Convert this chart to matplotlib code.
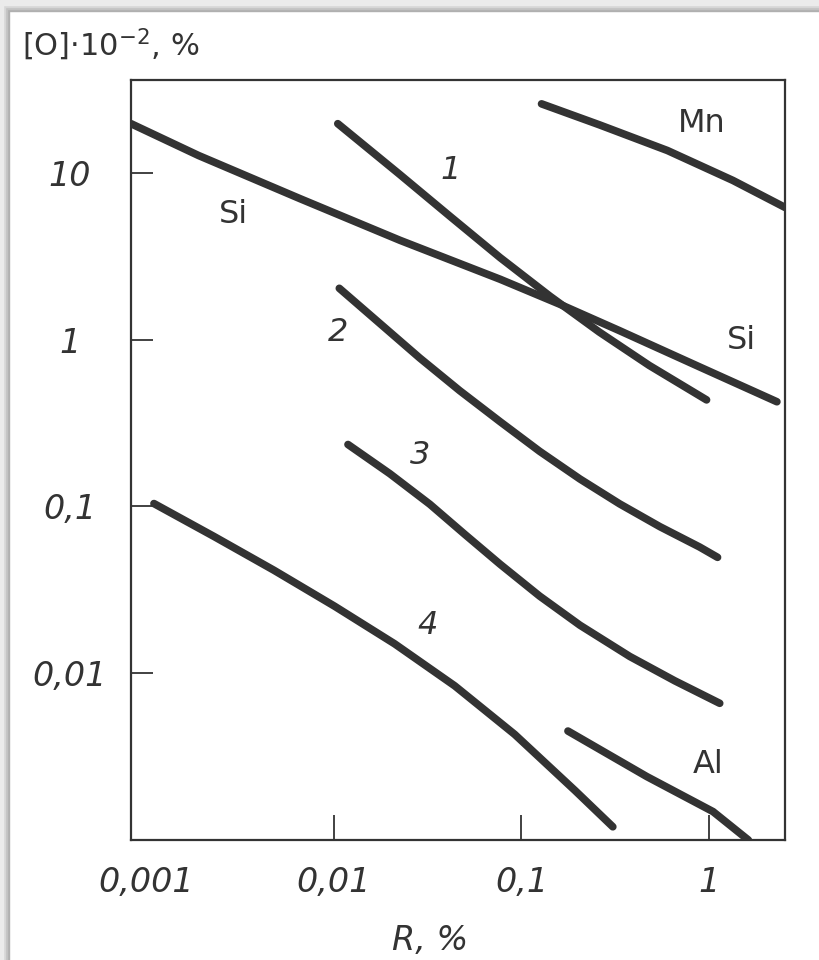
import matplotlib.pyplot as plt
from matplotlib.patches import Rectangle

# curves (log-log), R in %, [O]*1e-2 in %
si_x = [0.00083, 0.0019, 0.0066, 0.0225, 0.077, 0.16, 0.334, 0.89, 2.3]
si_y = [19.7, 12.7, 7.0, 3.94, 2.30, 1.63, 1.13, 0.686, 0.424]

mn_x = [0.128, 0.26, 0.60, 1.34, 2.54]
mn_y = [25.9, 19.4, 13.6, 9.0, 6.2]

c1_x = [0.0105, 0.0224, 0.0415, 0.077, 0.142, 0.26, 0.48, 0.97]
c1_y = [19.7, 9.8, 5.5, 3.1, 1.82, 1.11, 0.70, 0.435]

c2_x = [0.0107, 0.0176, 0.0287, 0.0469, 0.077, 0.125, 0.205, 0.334, 0.547, 0.89, 1.11]
c2_y = [2.03, 1.25, 0.776, 0.494, 0.322, 0.214, 0.146, 0.1035, 0.0756, 0.0571, 0.0495]

c3_x = [0.0119, 0.0199, 0.0325, 0.0499, 0.077, 0.125, 0.205, 0.378, 0.657, 1.14]
c3_y = [0.235, 0.157, 0.103, 0.068, 0.045, 0.029, 0.0194, 0.0126, 0.0090, 0.0066]

c4_x = [0.0011, 0.0023, 0.0048, 0.0101, 0.0211, 0.0441, 0.092, 0.193, 0.307]
c4_y = [0.104, 0.066, 0.0414, 0.0252, 0.0150, 0.0084, 0.0043, 0.00198, 0.0012]

al_x = [0.177, 0.466, 1.05, 1.62]
al_y = [0.0045, 0.0024, 0.00148, 0.001]

curves = [(si_x, si_y), (mn_x, mn_y), (c1_x, c1_y), (c2_x, c2_y),
          (c3_x, c3_y), (c4_x, c4_y), (al_x, al_y)]

lab_text = ["Mn", "Si", "Si", "Al", "1", "2", "3", "4"]
lab_x = [0.915, 0.0029, 1.48, 0.986, 0.042, 0.0105, 0.0287, 0.0317]
lab_y = [19.7, 5.63, 0.99, 0.00283, 10.3, 1.11, 0.2015, 0.0194]

xticks = [0.001, 0.01, 0.1, 1]
xtick_labels = ["0,001", "0,01", "0,1", "1"]
yticks = [0.01, 0.1, 1, 10]
ytick_labels = ["0,01", "0,1", "1", "10"]

ink = "#333333"
plt.rcParams["font.family"] = ["DejaVu Sans"]
plt.rcParams["mathtext.fontset"] = "custom"
plt.rcParams["mathtext.rm"] = "DejaVu Sans"
plt.rcParams["mathtext.it"] = "DejaVu Sans:italic"

fig = plt.figure(figsize=(8.19, 9.6), dpi=100)
fig.patch.set_facecolor("white")

# scan shadow on top / left edges
for i, g in enumerate(["#b0b0b0", "#c2c2c2", "#d6d6d6", "#ebebeb"]):
    fig.patches.append(Rectangle((0, 1 - (11 - 2 * i) / 960), 1, (11 - 2 * i) / 960,
                                 transform=fig.transFigure, color=g, zorder=-5 + i))
    fig.patches.append(Rectangle((0, 0), (9 - 2 * i) / 819, 1,
                                 transform=fig.transFigure, color=g, zorder=-5 + i))

ax = fig.add_axes([131 / 819, 120 / 960, 654 / 819, 760 / 960])
ax.set_xscale("log")
ax.set_yscale("log")
ax.set_xlim(0.00083, 2.54)
ax.set_ylim(0.001, 36)

for x, y in curves:
    ax.plot(x, y, color=ink, lw=5.5, solid_capstyle="round", solid_joinstyle="round")

for t, x, y in zip(lab_text, lab_x, lab_y):
    style = "italic" if t.isdigit() else "normal"
    ax.text(x, y, t, fontsize=23, color=ink, style=style, ha="center", va="center")

ax.set_xticks(xticks)
ax.set_xticklabels(xtick_labels)
ax.set_yticks(yticks)
ax.set_yticklabels(ytick_labels)
ax.minorticks_off()

ax.tick_params(axis="x", direction="in", length=18, width=1.3, pad=19,
               labelsize=24, colors=ink)
ax.tick_params(axis="y", direction="in", length=16, width=1.3, pad=44,
               labelsize=24, colors=ink)
ax.xaxis.get_major_ticks()[0].tick1line.set_visible(False)
for lbl in ax.get_xticklabels() + ax.get_yticklabels():
    lbl.set_style("italic")
for lbl in ax.get_yticklabels():
    lbl.set_ha("center")

for s in ax.spines.values():
    s.set_linewidth(1.6)
    s.set_color(ink)

fig.text(22 / 819, 1 - 45 / 960, r"[O]$\cdot\mathit{10}^{-2}$, %", fontsize=22,
         color=ink, ha="left", va="center")
fig.text(430 / 819, 1 - 940 / 960, "R, %", fontsize=24, color=ink,
         ha="center", va="center", style="italic")

plt.savefig("out.png", dpi=100)
